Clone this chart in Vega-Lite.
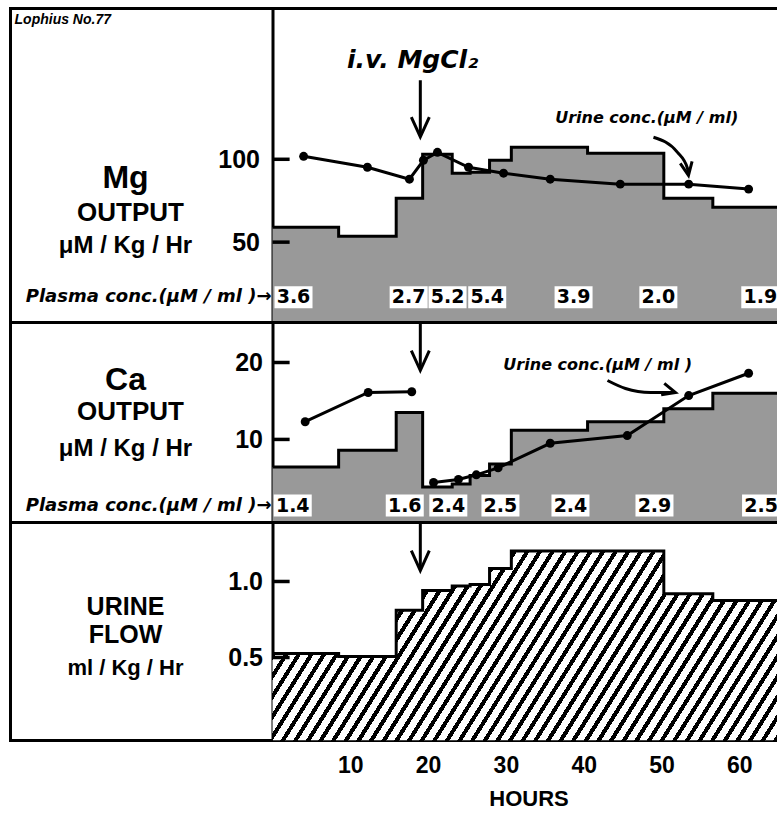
{
"$schema":"https://vega.github.io/schema/vega-lite/v6.json",
"padding":{"left":8.5,"top":6.5,"right":0,"bottom":0},
"background":"white",
"spacing":0,
"bounds":"flush",
"config":{"view":{"stroke":"black","strokeWidth":3},"text":{"font":"Liberation Sans","fontWeight":"bold","color":"black"}},
"datasets":{
"mgOut":[{"h":0,"v":59},{"h":8.5,"v":53.6},{"h":15.9,"v":76.5},{"h":19.3,"v":103},{"h":23.1,"v":91.6},{"h":25.4,"v":92.2},{"h":27.9,"v":99.4},{"h":30.7,"v":107.2},{"h":40.5,"v":103.6},{"h":50.3,"v":76.5},{"h":56.6,"v":71},{"h":66,"v":71}],
"caOut":[{"h":0,"v":6.4},{"h":8.5,"v":8.6},{"h":15.9,"v":13.5},{"h":19.3,"v":3.8},{"h":23.1,"v":4.2},{"h":25.4,"v":5.3},{"h":27.9,"v":6.8},{"h":30.7,"v":11.2},{"h":40.5,"v":12.3},{"h":50.3,"v":14},{"h":56.6,"v":16},{"h":66,"v":16}],
"flow":[{"h":0,"v":0.526},{"h":8.5,"v":0.507},{"h":15.9,"v":0.81},{"h":19.3,"v":0.94},{"h":23.1,"v":0.97},{"h":25.4,"v":0.98},{"h":27.9,"v":1.085},{"h":30.7,"v":1.2},{"h":40.5,"v":1.2},{"h":50.3,"v":0.92},{"h":56.6,"v":0.875},{"h":66,"v":0.875}],
"mgUrine":[{"h":4.0,"v":101.8},{"h":12.2,"v":95.2},{"h":17.6,"v":88},{"h":19.4,"v":99.4},{"h":21.2,"v":104.2},{"h":25.2,"v":95.2},{"h":29.7,"v":91.6},{"h":35.7,"v":88},{"h":44.7,"v":85},{"h":53.5,"v":85},{"h":61.2,"v":82}],
"caUrine":[{"seg":1,"h":4.2,"v":12.3},{"seg":1,"h":12.3,"v":16.1},{"seg":1,"h":17.9,"v":16.2},{"seg":2,"h":20.7,"v":4.4},{"seg":2,"h":23.9,"v":4.8},{"seg":2,"h":26.2,"v":5.4},{"seg":2,"h":29.0,"v":6.3},{"seg":2,"h":35.7,"v":9.5},{"seg":2,"h":45.6,"v":10.5},{"seg":2,"h":53.5,"v":15.7},{"seg":2,"h":61.2,"v":18.6}],
"mgPlasma":[{"h":2.7,"label":"3.6"},{"h":17.5,"label":"2.7"},{"h":22.5,"label":"5.2"},{"h":27.6,"label":"5.4"},{"h":38.7,"label":"3.9"},{"h":49.6,"label":"2.0"},{"h":62.7,"label":"1.9"}],
"caPlasma":[{"h":2.6,"label":"1.4"},{"h":17,"label":"1.6"},{"h":22.6,"label":"2.4"},{"h":29.3,"label":"2.5"},{"h":38.3,"label":"2.4"},{"h":49.1,"label":"2.9"},{"h":62.8,"label":"2.5"}],
"mgArrow":[{"h":48.97,"v":113.3},{"h":52.06,"v":104.2},{"h":53.34,"v":94.6},{"h":53.47,"v":90.3}],
"caArrow":[{"h":43.06,"v":17.66},{"h":45.37,"v":16.62},{"h":48.59,"v":16.1},{"h":51.8,"v":16.1}],
"mgTicks":[{"t":50},{"t":100}],
"caTicks":[{"t":10},{"t":20}],
"flowTicks":[{"t":0.5},{"t":1.0}]
},
"vconcat":[
{
"width":770,"height":314,
"resolve":{"axis":{"x":"independent","y":"independent"}},
"layer":[
{"data":{"name":"mgOut"},"mark":{"type":"area","interpolate":"step-after","fill":"#999999","clip":true},
"encoding":{"x":{"field":"h","type":"quantitative","scale":{"domain":[-33.68,65.3],"nice":false,"zero":false},"axis":null},
"y":{"field":"v","type":"quantitative","scale":{"domain":[1.5,191],"nice":false,"zero":false},"axis":{"values":[50,100],"offset":-262,"title":null,"grid":false,"domainWidth":3,"domainColor":"black","ticks":false,"labelPadding":13,"labelFontSize":25,"labelFont":"Liberation Sans","labelFontWeight":"bold","labelColor":"black"}},
"y2":{"datum":0}}},
{"data":{"name":"mgOut"},"mark":{"type":"line","interpolate":"step-after","stroke":"black","strokeWidth":3,"clip":true},
"encoding":{"x":{"field":"h","type":"quantitative","axis":null},"y":{"field":"v","type":"quantitative","axis":null}}},
{"data":{"name":"mgTicks"},"mark":{"type":"rule","stroke":"black","strokeWidth":3.5},
"encoding":{"x":{"datum":0,"axis":null},"x2":{"datum":2.2},"y":{"field":"t","type":"quantitative","axis":null}}},
{"data":{"name":"mgUrine"},"mark":{"type":"line","stroke":"black","strokeWidth":3},
"encoding":{"x":{"field":"h","type":"quantitative","axis":null},"y":{"field":"v","type":"quantitative","axis":null}}},
{"data":{"name":"mgUrine"},"mark":{"type":"point","filled":true,"fill":"black","size":80,"opacity":1},
"encoding":{"x":{"field":"h","type":"quantitative","axis":null},"y":{"field":"v","type":"quantitative","axis":null}}},
{"data":{"name":"mgPlasma"},"mark":{"type":"point","shape":"M-1,-0.58L1,-0.58L1,0.58L-1,0.58Z","filled":true,"fill":"white","size":1444,"opacity":1,"strokeWidth":0},
"encoding":{"x":{"field":"h","type":"quantitative","axis":null},"y":{"datum":16.7,"axis":null}}},
{"data":{"name":"mgPlasma"},"mark":{"type":"text","font":"DejaVu Sans","fontSize":19,"align":"center","baseline":"middle"},
"encoding":{"x":{"field":"h","type":"quantitative","axis":null},"y":{"datum":16.7,"axis":null},"text":{"field":"label"}}},
{"data":{"values":[{}]},"mark":{"type":"text","text":"Lophius No.77","fontSize":14,"fontStyle":"italic","align":"left","baseline":"middle"},
"encoding":{"x":{"datum":-33.16,"axis":null},"y":{"datum":183.9,"axis":null}}},
{"data":{"values":[{}]},"mark":{"type":"text","text":"Mg","fontSize":32,"align":"center","baseline":"middle"},
"encoding":{"x":{"datum":-18.9,"axis":null},"y":{"datum":88.5,"axis":null}}},
{"data":{"values":[{}]},"mark":{"type":"text","text":"OUTPUT","fontSize":26,"align":"center","baseline":"middle"},
"encoding":{"x":{"datum":-18.25,"axis":null},"y":{"datum":67.4,"axis":null}}},
{"data":{"values":[{}]},"mark":{"type":"text","text":"μM / Kg / Hr","fontSize":24,"align":"center","baseline":"middle"},
"encoding":{"x":{"datum":-18.9,"axis":null},"y":{"datum":47.5,"axis":null}}},
{"data":{"values":[{}]},"mark":{"type":"text","text":"Plasma conc.(μM / ml )→","font":"DejaVu Sans","fontSize":18,"fontStyle":"italic","align":"right","baseline":"middle"},
"encoding":{"x":{"datum":-0.13,"axis":null},"y":{"datum":16.7,"axis":null}}},
{"data":{"values":[{}]},"mark":{"type":"text","text":"i.v. MgCl₂","font":"DejaVu Sans","fontSize":25,"fontStyle":"italic","align":"center","baseline":"middle"},
"encoding":{"x":{"datum":18.0,"axis":null},"y":{"datum":159.7,"axis":null}}},
{"data":{"values":[{}]},"mark":{"type":"rule","stroke":"black","strokeWidth":3},
"encoding":{"x":{"datum":19.0,"axis":null},"y":{"datum":147.7,"axis":null},"y2":{"datum":114.5}}},
{"data":{"values":[{}]},"mark":{"type":"point","shape":"M-1,-2.2L0,0L1,-2.2","filled":false,"stroke":"black","strokeWidth":3,"size":324,"opacity":1},
"encoding":{"x":{"datum":19.0,"axis":null},"y":{"datum":113.5,"axis":null}}},
{"data":{"values":[{}]},"mark":{"type":"text","text":"Urine conc.(μM / ml)","font":"DejaVu Sans","fontSize":16,"fontStyle":"italic","align":"center","baseline":"middle"},
"encoding":{"x":{"datum":48.1,"axis":null},"y":{"datum":124.7,"axis":null}}},
{"data":{"name":"mgArrow"},"mark":{"type":"line","interpolate":"monotone","stroke":"black","strokeWidth":3},
"encoding":{"x":{"field":"h","type":"quantitative","axis":null},"y":{"field":"v","type":"quantitative","axis":null}}},
{"data":{"values":[{}]},"mark":{"type":"point","shape":"M-1,-2.2L0,0L1,-2.2","filled":false,"stroke":"black","strokeWidth":3,"size":144,"opacity":1,"angle":-10},
"encoding":{"x":{"datum":53.47,"axis":null},"y":{"datum":90.3,"axis":null}}}
]
},
{
"width":770,"height":200,
"resolve":{"axis":{"x":"independent","y":"independent"}},
"layer":[
{"data":{"name":"caOut"},"mark":{"type":"area","interpolate":"step-after","fill":"#999999","clip":true},
"encoding":{"x":{"field":"h","type":"quantitative","scale":{"domain":[-33.68,65.3],"nice":false,"zero":false},"axis":null},
"y":{"field":"v","type":"quantitative","scale":{"domain":[-0.8,25.2],"nice":false,"zero":false},"axis":{"values":[10,20],"offset":-262,"title":null,"grid":false,"domainWidth":3,"domainColor":"black","ticks":false,"labelPadding":10,"labelFontSize":25,"labelFont":"Liberation Sans","labelFontWeight":"bold","labelColor":"black"}},
"y2":{"datum":-0.8}}},
{"data":{"name":"caOut"},"mark":{"type":"line","interpolate":"step-after","stroke":"black","strokeWidth":3,"clip":true},
"encoding":{"x":{"field":"h","type":"quantitative","axis":null},"y":{"field":"v","type":"quantitative","axis":null}}},
{"data":{"name":"caTicks"},"mark":{"type":"rule","stroke":"black","strokeWidth":3.5},
"encoding":{"x":{"datum":0,"axis":null},"x2":{"datum":2.2},"y":{"field":"t","type":"quantitative","axis":null}}},
{"data":{"name":"caUrine"},"mark":{"type":"line","stroke":"black","strokeWidth":3},
"encoding":{"x":{"field":"h","type":"quantitative","axis":null},"y":{"field":"v","type":"quantitative","axis":null},"detail":{"field":"seg","type":"nominal"}}},
{"data":{"name":"caUrine"},"mark":{"type":"point","filled":true,"fill":"black","size":80,"opacity":1},
"encoding":{"x":{"field":"h","type":"quantitative","axis":null},"y":{"field":"v","type":"quantitative","axis":null}}},
{"data":{"name":"caPlasma"},"mark":{"type":"point","shape":"M-1,-0.58L1,-0.58L1,0.58L-1,0.58Z","filled":true,"fill":"white","size":1444,"opacity":1,"strokeWidth":0},
"encoding":{"x":{"field":"h","type":"quantitative","axis":null},"y":{"datum":1.4,"axis":null}}},
{"data":{"name":"caPlasma"},"mark":{"type":"text","font":"DejaVu Sans","fontSize":19,"align":"center","baseline":"middle"},
"encoding":{"x":{"field":"h","type":"quantitative","axis":null},"y":{"datum":1.4,"axis":null},"text":{"field":"label"}}},
{"data":{"values":[{}]},"mark":{"type":"text","text":"Ca","fontSize":32,"align":"center","baseline":"middle"},
"encoding":{"x":{"datum":-18.9,"axis":null},"y":{"datum":17.7,"axis":null}}},
{"data":{"values":[{}]},"mark":{"type":"text","text":"OUTPUT","fontSize":26,"align":"center","baseline":"middle"},
"encoding":{"x":{"datum":-18.25,"axis":null},"y":{"datum":13.6,"axis":null}}},
{"data":{"values":[{}]},"mark":{"type":"text","text":"μM / Kg / Hr","fontSize":24,"align":"center","baseline":"middle"},
"encoding":{"x":{"datum":-18.9,"axis":null},"y":{"datum":8.7,"axis":null}}},
{"data":{"values":[{}]},"mark":{"type":"text","text":"Plasma conc.(μM / ml )→","font":"DejaVu Sans","fontSize":18,"fontStyle":"italic","align":"right","baseline":"middle"},
"encoding":{"x":{"datum":-0.13,"axis":null},"y":{"datum":1.4,"axis":null}}},
{"data":{"values":[{}]},"mark":{"type":"rule","stroke":"black","strokeWidth":3},
"encoding":{"x":{"datum":19.0,"axis":null},"y":{"datum":25.2,"axis":null},"y2":{"datum":19.2}}},
{"data":{"values":[{}]},"mark":{"type":"point","shape":"M-1,-2.2L0,0L1,-2.2","filled":false,"stroke":"black","strokeWidth":3,"size":324,"opacity":1},
"encoding":{"x":{"datum":19.0,"axis":null},"y":{"datum":18.96,"axis":null}}},
{"data":{"values":[{}]},"mark":{"type":"text","text":"Urine conc.(μM / ml )","font":"DejaVu Sans","fontSize":16,"fontStyle":"italic","align":"center","baseline":"middle"},
"encoding":{"x":{"datum":41.8,"axis":null},"y":{"datum":19.7,"axis":null}}},
{"data":{"name":"caArrow"},"mark":{"type":"line","interpolate":"monotone","stroke":"black","strokeWidth":3},
"encoding":{"x":{"field":"h","type":"quantitative","axis":null},"y":{"field":"v","type":"quantitative","axis":null}}},
{"data":{"values":[{}]},"mark":{"type":"point","shape":"M-1,-2.2L0,0L1,-2.2","filled":false,"stroke":"black","strokeWidth":3,"size":144,"opacity":1,"angle":-75},
"encoding":{"x":{"datum":51.8,"axis":null},"y":{"datum":16.1,"axis":null}}}
]
},
{
"width":770,"height":218,
"resolve":{"axis":{"x":"independent","y":"independent"}},
"layer":[
{"data":{"name":"flow"},"mark":{"type":"area","interpolate":"step-after","clip":true,
"fill":{"gradient":"linear","x1":0,"y1":0,"x2":1.168,"y2":0.2693,"stops":[
{"offset":0,"color":"#000"},{"offset":0.0076,"color":"#000"},{"offset":0.0076,"color":"#fff"},{"offset":0.02,"color":"#fff"},
{"offset":0.02,"color":"#000"},{"offset":0.0276,"color":"#000"},{"offset":0.0276,"color":"#fff"},{"offset":0.04,"color":"#fff"},
{"offset":0.04,"color":"#000"},{"offset":0.0476,"color":"#000"},{"offset":0.0476,"color":"#fff"},{"offset":0.06,"color":"#fff"},
{"offset":0.06,"color":"#000"},{"offset":0.0676,"color":"#000"},{"offset":0.0676,"color":"#fff"},{"offset":0.08,"color":"#fff"},
{"offset":0.08,"color":"#000"},{"offset":0.0876,"color":"#000"},{"offset":0.0876,"color":"#fff"},{"offset":0.1,"color":"#fff"},
{"offset":0.1,"color":"#000"},{"offset":0.1076,"color":"#000"},{"offset":0.1076,"color":"#fff"},{"offset":0.12,"color":"#fff"},
{"offset":0.12,"color":"#000"},{"offset":0.1276,"color":"#000"},{"offset":0.1276,"color":"#fff"},{"offset":0.14,"color":"#fff"},
{"offset":0.14,"color":"#000"},{"offset":0.1476,"color":"#000"},{"offset":0.1476,"color":"#fff"},{"offset":0.16,"color":"#fff"},
{"offset":0.16,"color":"#000"},{"offset":0.1676,"color":"#000"},{"offset":0.1676,"color":"#fff"},{"offset":0.18,"color":"#fff"},
{"offset":0.18,"color":"#000"},{"offset":0.1876,"color":"#000"},{"offset":0.1876,"color":"#fff"},{"offset":0.2,"color":"#fff"},
{"offset":0.2,"color":"#000"},{"offset":0.2076,"color":"#000"},{"offset":0.2076,"color":"#fff"},{"offset":0.22,"color":"#fff"},
{"offset":0.22,"color":"#000"},{"offset":0.2276,"color":"#000"},{"offset":0.2276,"color":"#fff"},{"offset":0.24,"color":"#fff"},
{"offset":0.24,"color":"#000"},{"offset":0.2476,"color":"#000"},{"offset":0.2476,"color":"#fff"},{"offset":0.26,"color":"#fff"},
{"offset":0.26,"color":"#000"},{"offset":0.2676,"color":"#000"},{"offset":0.2676,"color":"#fff"},{"offset":0.28,"color":"#fff"},
{"offset":0.28,"color":"#000"},{"offset":0.2876,"color":"#000"},{"offset":0.2876,"color":"#fff"},{"offset":0.3,"color":"#fff"},
{"offset":0.3,"color":"#000"},{"offset":0.3076,"color":"#000"},{"offset":0.3076,"color":"#fff"},{"offset":0.32,"color":"#fff"},
{"offset":0.32,"color":"#000"},{"offset":0.3276,"color":"#000"},{"offset":0.3276,"color":"#fff"},{"offset":0.34,"color":"#fff"},
{"offset":0.34,"color":"#000"},{"offset":0.3476,"color":"#000"},{"offset":0.3476,"color":"#fff"},{"offset":0.36,"color":"#fff"},
{"offset":0.36,"color":"#000"},{"offset":0.3676,"color":"#000"},{"offset":0.3676,"color":"#fff"},{"offset":0.38,"color":"#fff"},
{"offset":0.38,"color":"#000"},{"offset":0.3876,"color":"#000"},{"offset":0.3876,"color":"#fff"},{"offset":0.4,"color":"#fff"},
{"offset":0.4,"color":"#000"},{"offset":0.4076,"color":"#000"},{"offset":0.4076,"color":"#fff"},{"offset":0.42,"color":"#fff"},
{"offset":0.42,"color":"#000"},{"offset":0.4276,"color":"#000"},{"offset":0.4276,"color":"#fff"},{"offset":0.44,"color":"#fff"},
{"offset":0.44,"color":"#000"},{"offset":0.4476,"color":"#000"},{"offset":0.4476,"color":"#fff"},{"offset":0.46,"color":"#fff"},
{"offset":0.46,"color":"#000"},{"offset":0.4676,"color":"#000"},{"offset":0.4676,"color":"#fff"},{"offset":0.48,"color":"#fff"},
{"offset":0.48,"color":"#000"},{"offset":0.4876,"color":"#000"},{"offset":0.4876,"color":"#fff"},{"offset":0.5,"color":"#fff"},
{"offset":0.5,"color":"#000"},{"offset":0.5076,"color":"#000"},{"offset":0.5076,"color":"#fff"},{"offset":0.52,"color":"#fff"},
{"offset":0.52,"color":"#000"},{"offset":0.5276,"color":"#000"},{"offset":0.5276,"color":"#fff"},{"offset":0.54,"color":"#fff"},
{"offset":0.54,"color":"#000"},{"offset":0.5476,"color":"#000"},{"offset":0.5476,"color":"#fff"},{"offset":0.56,"color":"#fff"},
{"offset":0.56,"color":"#000"},{"offset":0.5676,"color":"#000"},{"offset":0.5676,"color":"#fff"},{"offset":0.58,"color":"#fff"},
{"offset":0.58,"color":"#000"},{"offset":0.5876,"color":"#000"},{"offset":0.5876,"color":"#fff"},{"offset":0.6,"color":"#fff"},
{"offset":0.6,"color":"#000"},{"offset":0.6076,"color":"#000"},{"offset":0.6076,"color":"#fff"},{"offset":0.62,"color":"#fff"},
{"offset":0.62,"color":"#000"},{"offset":0.6276,"color":"#000"},{"offset":0.6276,"color":"#fff"},{"offset":0.64,"color":"#fff"},
{"offset":0.64,"color":"#000"},{"offset":0.6476,"color":"#000"},{"offset":0.6476,"color":"#fff"},{"offset":0.66,"color":"#fff"},
{"offset":0.66,"color":"#000"},{"offset":0.6676,"color":"#000"},{"offset":0.6676,"color":"#fff"},{"offset":0.68,"color":"#fff"},
{"offset":0.68,"color":"#000"},{"offset":0.6876,"color":"#000"},{"offset":0.6876,"color":"#fff"},{"offset":0.7,"color":"#fff"},
{"offset":0.7,"color":"#000"},{"offset":0.7076,"color":"#000"},{"offset":0.7076,"color":"#fff"},{"offset":0.72,"color":"#fff"},
{"offset":0.72,"color":"#000"},{"offset":0.7276,"color":"#000"},{"offset":0.7276,"color":"#fff"},{"offset":0.74,"color":"#fff"},
{"offset":0.74,"color":"#000"},{"offset":0.7476,"color":"#000"},{"offset":0.7476,"color":"#fff"},{"offset":0.76,"color":"#fff"},
{"offset":0.76,"color":"#000"},{"offset":0.7676,"color":"#000"},{"offset":0.7676,"color":"#fff"},{"offset":0.78,"color":"#fff"},
{"offset":0.78,"color":"#000"},{"offset":0.7876,"color":"#000"},{"offset":0.7876,"color":"#fff"},{"offset":0.8,"color":"#fff"},
{"offset":0.8,"color":"#000"},{"offset":0.8076,"color":"#000"},{"offset":0.8076,"color":"#fff"},{"offset":0.82,"color":"#fff"},
{"offset":0.82,"color":"#000"},{"offset":0.8276,"color":"#000"},{"offset":0.8276,"color":"#fff"},{"offset":0.84,"color":"#fff"},
{"offset":0.84,"color":"#000"},{"offset":0.8476,"color":"#000"},{"offset":0.8476,"color":"#fff"},{"offset":0.86,"color":"#fff"},
{"offset":0.86,"color":"#000"},{"offset":0.8676,"color":"#000"},{"offset":0.8676,"color":"#fff"},{"offset":0.88,"color":"#fff"},
{"offset":0.88,"color":"#000"},{"offset":0.8876,"color":"#000"},{"offset":0.8876,"color":"#fff"},{"offset":0.9,"color":"#fff"},
{"offset":0.9,"color":"#000"},{"offset":0.9076,"color":"#000"},{"offset":0.9076,"color":"#fff"},{"offset":0.92,"color":"#fff"},
{"offset":0.92,"color":"#000"},{"offset":0.9276,"color":"#000"},{"offset":0.9276,"color":"#fff"},{"offset":0.94,"color":"#fff"},
{"offset":0.94,"color":"#000"},{"offset":0.9476,"color":"#000"},{"offset":0.9476,"color":"#fff"},{"offset":0.96,"color":"#fff"},
{"offset":0.96,"color":"#000"},{"offset":0.9676,"color":"#000"},{"offset":0.9676,"color":"#fff"},{"offset":0.98,"color":"#fff"},
{"offset":0.98,"color":"#000"},{"offset":0.9876,"color":"#000"},{"offset":0.9876,"color":"#fff"},{"offset":1,"color":"#fff"}
]}},
"encoding":{"x":{"field":"h","type":"quantitative","scale":{"domain":[-33.68,65.3],"nice":false,"zero":false},"axis":{"values":[10,20,30,40,50,60],"title":"HOURS","domain":false,"ticks":false,"grid":false,"labelPadding":14,"labelFontSize":23,"labelFont":"Liberation Sans","labelFontWeight":"bold","labelColor":"black","titleFontSize":22,"titleFont":"Liberation Sans","titleFontWeight":"bold","titleColor":"black","titlePadding":11,"titleX":518}},
"y":{"field":"v","type":"quantitative","scale":{"domain":[-0.046,1.388],"nice":false,"zero":false},"axis":{"values":[0.5,1.0],"format":".1f","offset":-262,"title":null,"grid":false,"domainWidth":3,"domainColor":"black","ticks":false,"labelPadding":10,"labelFontSize":25,"labelFont":"Liberation Sans","labelFontWeight":"bold","labelColor":"black"}},
"y2":{"datum":-0.046}}},
{"data":{"name":"flow"},"mark":{"type":"line","interpolate":"step-after","stroke":"black","strokeWidth":3,"clip":true},
"encoding":{"x":{"field":"h","type":"quantitative","axis":null},"y":{"field":"v","type":"quantitative","axis":null}}},
{"data":{"name":"flowTicks"},"mark":{"type":"rule","stroke":"black","strokeWidth":3.5},
"encoding":{"x":{"datum":0,"axis":null},"x2":{"datum":2.2},"y":{"field":"t","type":"quantitative","axis":null}}},
{"data":{"values":[{}]},"mark":{"type":"text","text":"URINE","fontSize":25,"align":"center","baseline":"middle"},
"encoding":{"x":{"datum":-18.9,"axis":null},"y":{"datum":0.835,"axis":null}}},
{"data":{"values":[{}]},"mark":{"type":"text","text":"FLOW","fontSize":25,"align":"center","baseline":"middle"},
"encoding":{"x":{"datum":-18.9,"axis":null},"y":{"datum":0.645,"axis":null}}},
{"data":{"values":[{}]},"mark":{"type":"text","text":"ml / Kg / Hr","fontSize":22,"align":"center","baseline":"middle"},
"encoding":{"x":{"datum":-18.9,"axis":null},"y":{"datum":0.428,"axis":null}}},
{"data":{"values":[{}]},"mark":{"type":"rule","stroke":"black","strokeWidth":3},
"encoding":{"x":{"datum":19.0,"axis":null},"y":{"datum":1.388,"axis":null},"y2":{"datum":1.085}}},
{"data":{"values":[{}]},"mark":{"type":"point","shape":"M-1,-2.2L0,0L1,-2.2","filled":false,"stroke":"black","strokeWidth":3,"size":324,"opacity":1},
"encoding":{"x":{"datum":19.0,"axis":null},"y":{"datum":1.072,"axis":null}}}
]
}
]
}
